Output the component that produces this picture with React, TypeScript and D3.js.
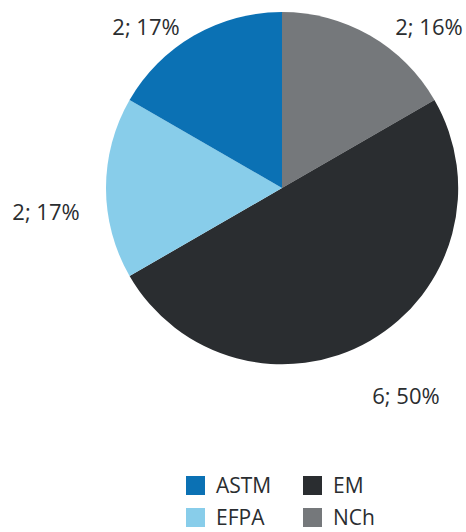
import React from "react";
import * as d3 from "d3";

const categories = ["NCh", "EM", "EFPA", "ASTM"];
const values = [2, 6, 2, 2];
const percentLabels = ["16%", "50%", "17%", "17%"];
const legendOrder = ["ASTM", "EM", "EFPA", "NCh"];

const colors: Record<string, string> = {
  ASTM: "#0b71b4",
  EFPA: "#88cdea",
  EM: "#2a2d30",
  NCh: "#75787b",
};

const W = 466;
const H = 532;
const cx = 282;
const cy = 188;
const R = 176;
const FONT = "'Open Sans', 'DejaVu Sans', sans-serif";
// label anchor points (text centers), relative to pie centre
const labelOffsets: [number, number][] = [
  [147, -162],
  [124, 207],
  [-236, 23],
  [-136, -162],
];

export default function App() {
  const pie = d3.pie<number>().sort(null).value((d) => d)(values);
  const arc = d3.arc<d3.PieArcDatum<number>>().innerRadius(0).outerRadius(R);
  return (
    <svg
      width={W}
      height={H}
      style={{ position: "absolute", left: 0, top: 0, background: "#fff" }}
      fontFamily={FONT}
    >
      <g transform={`translate(${cx},${cy})`}>
        {pie.map((p, i) => (
          <path key={i} d={arc(p) || ""} fill={colors[categories[i]]} />
        ))}
        {pie.map((p, i) => (
          <text
            key={"l" + i}
            x={labelOffsets[i][0]}
            y={labelOffsets[i][1]}
            textAnchor="middle"
            dominantBaseline="central"
            fontSize={22}
            fill="#2a2d30"
          >
            {`${values[i]}; ${percentLabels[i]}`}
          </text>
        ))}
      </g>
      <g>
        {legendOrder.map((c, i) => {
          const col = i % 2;
          const row = Math.floor(i / 2);
          const x = 186 + col * 117;
          const y = 476 + row * 32;
          return (
            <g key={c}>
              <rect x={x} y={y} width={19} height={19} fill={colors[c]} />
              <text x={x + 30} y={y + 17} fontSize={21} fill="#2a2d30">
                {c}
              </text>
            </g>
          );
        })}
      </g>
    </svg>
  );
}
